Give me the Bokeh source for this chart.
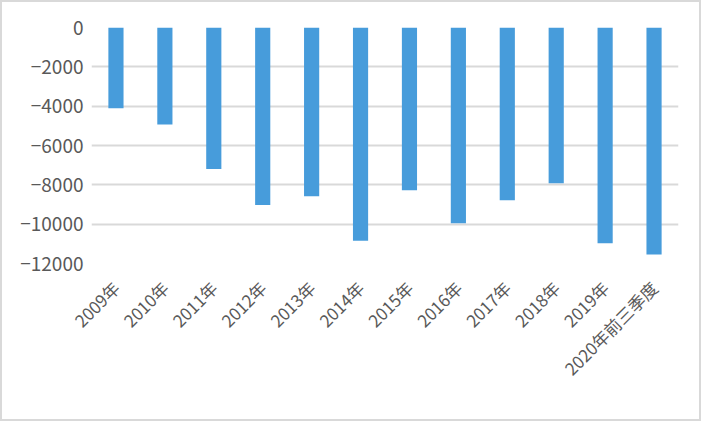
import math
from bokeh.plotting import figure
from bokeh.models import Range1d, FixedTicker, ColumnDataSource
from bokeh.embed import file_html
from bokeh.resources import INLINE

categories = ["2009年", "2010年", "2011年", "2012年", "2013年", "2014年",
              "2015年", "2016年", "2017年", "2018年", "2019年", "2020年前三季度"]
values = [-4100, -4930, -7200, -9030, -8580, -10840,
          -8270, -9950, -8780, -7920, -10970, -11540]
y_ticks = [0, -2000, -4000, -6000, -8000, -10000, -12000]

src = ColumnDataSource(dict(cat=categories, val=values))

p = figure(x_range=categories, y_range=Range1d(-12000, 0),
           width=701, height=421, output_backend="svg", toolbar_location=None,
           min_border_left=89, min_border_right=25, min_border_top=25,
           min_border_bottom=160)
p.styles = {"border": "2px solid #d9d9d9"}
p.x_range.range_padding = 0
p.outline_line_color = None
p.background_fill_color = "white"
p.border_fill_color = "white"

p.vbar(x="cat", top=0, bottom="val", width=0.31, source=src,
       fill_color="#479cdb", line_color=None)

p.xgrid.grid_line_color = None
p.ygrid.grid_line_color = "#d9d9d9"
p.ygrid.grid_line_width = 2
p.yaxis.ticker = FixedTicker(ticks=y_ticks)

for ax in (p.xaxis[0], p.yaxis[0]):
    ax.axis_line_color = None
    ax.major_tick_line_color = None
    ax.minor_tick_line_color = None
    ax.major_tick_out = 0
    ax.major_tick_in = 0
    ax.minor_tick_out = 0
    ax.minor_tick_in = 0
    ax.major_label_text_color = "#595959"
    ax.major_label_text_font = "Noto Sans CJK SC"

p.yaxis.major_label_text_font_size = "19px"
p.yaxis.major_label_standoff = 8
p.xaxis.major_label_text_font_size = "17px"
p.xaxis.major_label_orientation = math.pi / 4
p.xaxis.major_label_standoff = 21

open("out.html", "w").write(file_html(p, INLINE))
